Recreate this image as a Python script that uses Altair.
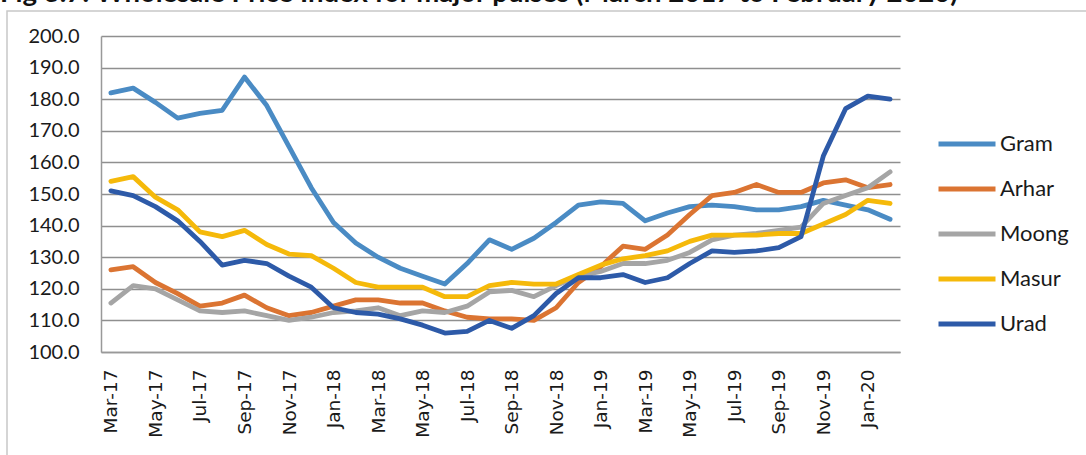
import altair as alt
import pandas as pd

months = ["Mar-17","Apr-17","May-17","Jun-17","Jul-17","Aug-17","Sep-17","Oct-17","Nov-17","Dec-17",
          "Jan-18","Feb-18","Mar-18","Apr-18","May-18","Jun-18","Jul-18","Aug-18","Sep-18","Oct-18",
          "Nov-18","Dec-18","Jan-19","Feb-19","Mar-19","Apr-19","May-19","Jun-19","Jul-19","Aug-19",
          "Sep-19","Oct-19","Nov-19","Dec-19","Jan-20","Feb-20"]

gram = [182, 183.5, 179, 174, 175.5, 176.5, 187, 178, 165, 152,
        141, 134.5, 130, 126.5, 124, 121.5, 128, 135.5, 132.5, 136,
        141, 146.5, 147.5, 147, 141.5, 144, 146, 146.5, 146, 145,
        145, 146, 148, 146.5, 145, 142]
arhar = [126, 127, 122, 118.5, 114.5, 115.5, 118, 114, 111.5, 112.5,
         114.5, 116.5, 116.5, 115.5, 115.5, 113, 111, 110.5, 110.5, 110,
         114, 122, 127, 133.5, 132.5, 137, 143.5, 149.5, 150.5, 153,
         150.5, 150.5, 153.5, 154.5, 152, 153]
moong = [115.5, 121, 120, 116.5, 113, 112.5, 113, 111.5, 110, 111,
         112.5, 113, 114, 111.5, 113, 112.5, 114.5, 119, 119.5, 117.5,
         121, 124, 125.5, 128, 128, 129, 131.5, 135.5, 137, 137.5,
         138.5, 139.5, 147, 149.5, 152, 157]
masur = [154, 155.5, 149, 145, 138, 136.5, 138.5, 134, 131, 130.5,
         126.5, 122, 120.5, 120.5, 120.5, 117.5, 117.5, 121, 122, 121.5,
         121.5, 124.5, 127.5, 129.5, 130.5, 132, 135, 137, 137, 137,
         137.5, 137.5, 140.5, 143.5, 148, 147]
urad = [151, 149.5, 146, 141.5, 135, 127.5, 129, 128, 124, 120.5,
        114, 112.5, 112, 110.5, 108.5, 106, 106.5, 110, 107.5, 111.5,
        118.5, 123.5, 123.5, 124.5, 122, 123.5, 128, 132, 131.5, 132,
        133, 136.5, 162, 177, 181, 180]

series_names = ["Gram", "Arhar", "Moong", "Masur", "Urad"]
series_values = [gram, arhar, moong, masur, urad]
series_colors = ["#4A8BC4", "#DB7432", "#A5A5A5", "#F5B90A", "#2D5AA8"]
y_ticks = [100, 110, 120, 130, 140, 150, 160, 170, 180, 190, 200]
title_text = "Fig 3.7: Wholesale Price Index for major pulses (March 2017 to February 2020)"

rows = []
for name, vals in zip(series_names, series_values):
    for i, (m, v) in enumerate(zip(months, vals)):
        rows.append({"Month": m, "Pulse": name, "Index": v, "order": i})
df = pd.DataFrame(rows)

W, H = 799, 316
PL, PT = 101, 36

lines = alt.Chart(df).mark_line(strokeWidth=4.8, strokeCap="round", strokeJoin="round").encode(
    x=alt.X("Month:O", sort=months, title=None,
            scale=alt.Scale(type="point", padding=0.445),
            axis=alt.Axis(values=months[::2], labelAngle=270, labelFont="DejaVu Sans",
                          labelFontSize=18.5, labelColor="#1a1a1a", ticks=False,
                          labelPadding=17, domainColor="#999999", domainWidth=1.5,
                          grid=False)),
    y=alt.Y("Index:Q", title=None,
            scale=alt.Scale(domain=[100, 200], nice=False, zero=False),
            axis=alt.Axis(values=y_ticks, format=".1f", labelFont="Lato", labelFontSize=20,
                          labelColor="#1a1a1a", ticks=False, labelPadding=22,
                          domainColor="#999999", domainWidth=1.5,
                          grid=True, gridColor="#8f8f8f", gridWidth=1.5)),
    color=alt.Color("Pulse:N", sort=series_names,
                    scale=alt.Scale(domain=series_names, range=series_colors),
                    legend=alt.Legend(title=None, orient="none", legendX=835, legendY=77,
                                      symbolType="stroke", symbolSize=3249,
                                      symbolStrokeWidth=5, labelFont="Lato",
                                      labelFontSize=22, labelColor="#1a1a1a",
                                      labelOffset=2, rowPadding=3, padding=0)),
    order=alt.Order("order:Q"),
)

frame = alt.Chart(pd.DataFrame({"a": [0]})).mark_rect(
    filled=False, stroke="#c8c8c8", strokeWidth=1.5
).encode(x=alt.value(7 - PL), y=alt.value(11 - PT), x2=alt.value(1300), y2=alt.value(600))

title = alt.Chart(pd.DataFrame({"t": [title_text]})).mark_text(
    align="left", baseline="alphabetic", font="Lato", fontSize=27.5, fontWeight="bold",
    color="#111111"
).encode(text="t:N", x=alt.value(0 - PL), y=alt.value(2 - PT))

chart = alt.layer(frame, title, lines).properties(
    width=W, height=H,
    autosize=alt.AutoSizeParams(type="none"),
    padding={"left": PL, "top": PT, "right": 1086 - PL - W, "bottom": 455 - PT - H},
).configure_view(stroke=None)

chart.save("out.html", embed_options={"renderer": "svg", "actions": False})
